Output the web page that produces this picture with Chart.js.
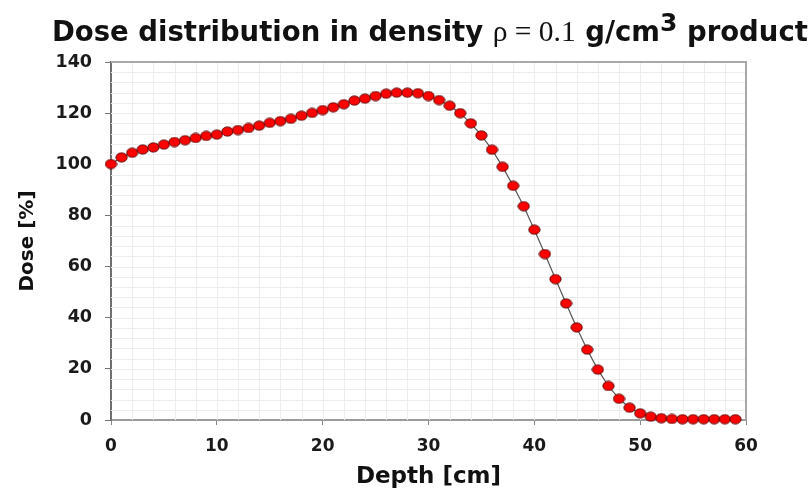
<!DOCTYPE html>
<html>
<head>
<meta charset="utf-8">
<script src="https://cdn.jsdelivr.net/npm/chart.js@4/dist/chart.umd.min.js"></script>
<style>
  html, body { margin: 0; padding: 0; background: #fff; }
  #wrap { position: relative; width: 811px; height: 493px; }
  #title { position: absolute; left: 52px; top: 15px; font: bold 27.5px 'DejaVu Sans'; white-space: nowrap; color: #111; }
  #title .m { font: normal 29.5px 'Liberation Serif'; }
  #title .sup { font: bold 25px 'DejaVu Sans'; position: relative; top: -10px; }
</style>
</head>
<body>
<div id="wrap">
  <canvas id="c" width="811" height="493"></canvas>
  <div id="title">Dose distribution in density <span class="m">ρ = 0.1</span> g/cm<span class="sup">3</span> product</div>
</div>
<script>
const depth = [0,1,2,3,4,5,6,7,8,9,10,11,12,13,14,15,16,17,18,19,20,21,22,23,24,25,26,27,28,29,30,31,32,33,34,35,36,37,38,39,40,41,42,43,44,45,46,47,48,49,50,51,52,53,54,55,56,57,58,59];
const dose = [100.1,102.7,104.5,105.8,106.6,107.7,108.7,109.4,110.3,111.1,111.6,112.8,113.4,114.2,115.1,116.2,116.9,117.8,119.0,120.1,121.2,122.3,123.5,124.9,125.7,126.7,127.6,128.0,128.0,127.8,126.7,125.1,122.9,120.0,116.0,111.3,105.7,99.0,91.6,83.6,74.4,64.9,55.1,45.6,36.2,27.5,19.7,13.3,8.3,4.8,2.6,1.3,0.7,0.4,0.3,0.3,0.3,0.3,0.3,0.3];
const xTitle = 'Depth [cm]';
const yTitle = 'Dose [%]';

// ellipse marker
const mk = document.createElement('canvas');
mk.width = 13; mk.height = 11;
(function(){
  const g = mk.getContext('2d');
  g.beginPath();
  g.ellipse(6.5, 5.5, 5.6, 4.6, 0, 0, Math.PI*2);
  g.fillStyle = '#ff0000';
  g.fill();
  g.lineWidth = 1;
  g.strokeStyle = '#5a0000';
  g.stroke();
})();

const gridPlugin = {
  id: 'minorGrid',
  beforeDatasetsDraw(chart) {
    const {ctx, chartArea: a, scales: {x, y}} = chart;
    ctx.save();
    ctx.strokeStyle = '#ededed';
    ctx.lineWidth = 1;
    ctx.beginPath();
    for (let v = x.min + 2; v < x.max; v += 2) {
      const px = Math.round(x.getPixelForValue(v)) + 0.5;
      ctx.moveTo(px, a.top); ctx.lineTo(px, a.bottom);
    }
    for (let v = y.min + 4; v < y.max; v += 4) {
      const py = Math.round(y.getPixelForValue(v)) + 0.5;
      ctx.moveTo(a.left, py); ctx.lineTo(a.right, py);
    }
    ctx.stroke();
    // top and right frame
    ctx.strokeStyle = '#a8a8a8';
    ctx.lineWidth = 2;
    ctx.beginPath();
    ctx.moveTo(a.left, a.top); ctx.lineTo(a.right, a.top); ctx.lineTo(a.right, a.bottom);
    ctx.stroke();
    ctx.restore();
  },
  afterDraw(chart) {
    const {ctx, chartArea: a} = chart;
    ctx.save();
    ctx.fillStyle = '#111';
    ctx.textAlign = 'center';
    ctx.textBaseline = 'middle';
    ctx.font = "bold 23px 'DejaVu Sans'";
    ctx.fillText(xTitle, (a.left + a.right) / 2, 477);
    ctx.translate(28, (a.top + a.bottom) / 2);
    ctx.rotate(-Math.PI / 2);
    ctx.font = "bold 20px 'DejaVu Sans'";
    ctx.fillText(yTitle, 0, 0);
    ctx.restore();
  }
};

new Chart(document.getElementById('c'), {
  type: 'line',
  data: {
    labels: depth,
    datasets: [{
      data: depth.map((d, i) => ({x: d, y: dose[i]})),
      borderColor: '#555',
      borderWidth: 1.2,
      pointStyle: mk,
      pointRadius: 5,
      pointHoverRadius: 5,
      tension: 0,
      clip: false
    }]
  },
  options: {
    responsive: false,
    animation: false,
    events: [],
    layout: { padding: { left: 0, top: 62, right: 65, bottom: 0 } },
    plugins: { legend: { display: false }, tooltip: { enabled: false }, title: { display: false } },
    scales: {
      x: {
        type: 'linear', min: 0, max: 60,
        afterFit(s) { s.height = 73; },
        ticks: { stepSize: 10, padding: 11, color: '#1a1a1a', font: { family: 'DejaVu Sans', weight: 'bold', size: 17 } },
        grid: { drawOnChartArea: false, drawTicks: true, tickLength: 5, color: '#888', tickWidth: 1 },
        border: { display: true, color: '#9a9a9a', width: 2 }
      },
      y: {
        type: 'linear', min: 0, max: 140,
        afterFit(s) { s.width = 111; },
        ticks: { stepSize: 20, padding: 13, color: '#1a1a1a', font: { family: 'DejaVu Sans', weight: 'bold', size: 17.5 } },
        grid: { drawOnChartArea: false, drawTicks: true, tickLength: 6, color: '#777', tickWidth: 1 },
        border: { display: true, color: '#707070', width: 2 }
      }
    }
  },
  plugins: [gridPlugin]
});
</script>
</body>
</html>
